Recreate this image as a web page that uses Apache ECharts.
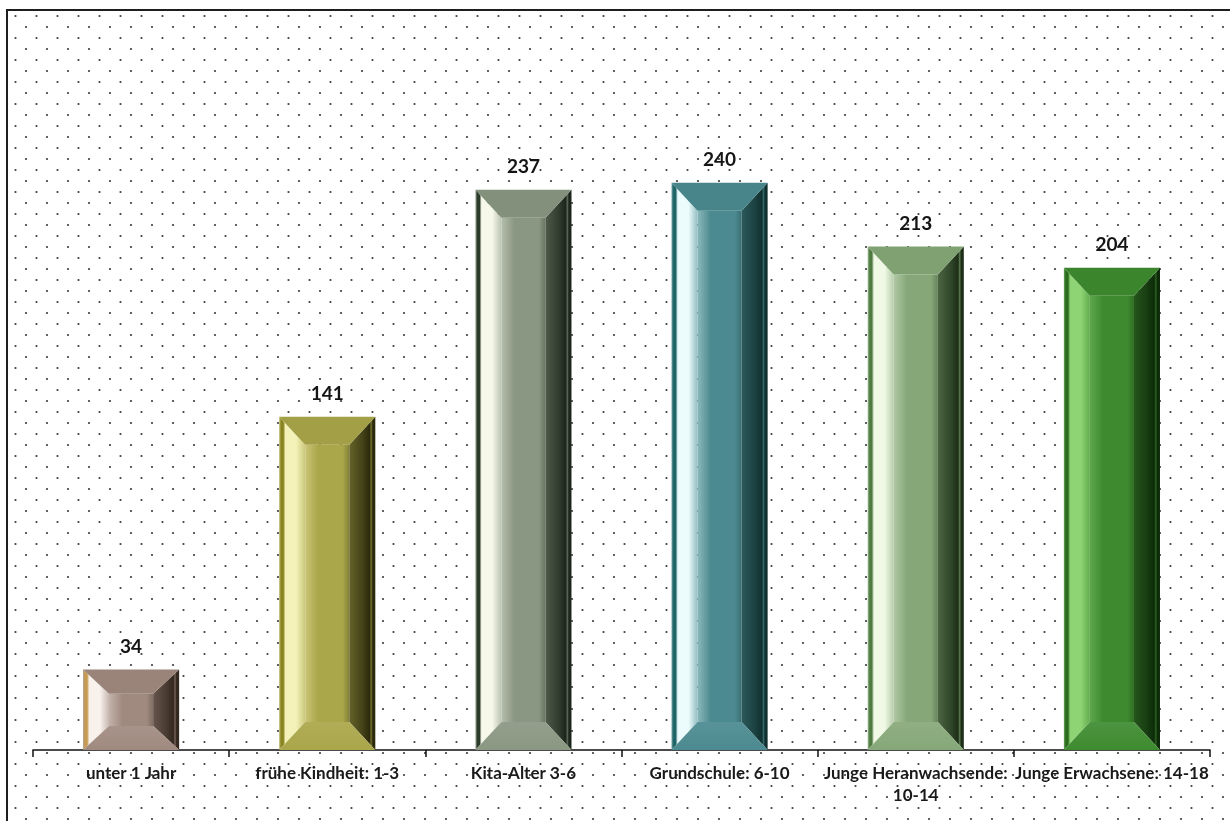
<!DOCTYPE html>
<html>
<head>
<meta charset="utf-8">
<script src="https://cdn.jsdelivr.net/npm/echarts@6/dist/echarts.min.js"></script>
<style>
  html, body { margin: 0; padding: 0; background: #ffffff; }
  #chart { width: 1230px; height: 821px; }
</style>
</head>
<body>
<div id="chart"></div>
<script>
// Age groups and counts
const categories = [
  'unter 1 Jahr',
  'frühe Kindheit: 1-3',
  'Kita-Alter 3-6',
  'Grundschule: 6-10',
  'Junge Heranwachsende:\n10-14',
  'Junge Erwachsene: 14-18'
];
const values = [34, 141, 237, 240, 213, 204];

// Bar face colours: base, light edge, shadow
const palette = [
  { base: '#a08a80', light: '#f8f1ec', dark: '#34281f', edge: '#c89a50' },
  { base: '#aaa64a', light: '#f4f2b8', dark: '#2c2a0c', edge: '#8a8420' },
  { base: '#8a9782', light: '#f6f8ea', dark: '#1c261b', edge: '#2c3a2a' },
  { base: '#4b8a90', light: '#ecfcfc', dark: '#10302f', edge: '#1f6466' },
  { base: '#86a878', light: '#f0f9e6', dark: '#1c2e16', edge: '#4e7a40' },
  { base: '#3e8b2f', light: '#8fd474', dark: '#0e2a0a', edge: '#2a6a1c' }
];

function hexToRgb(h) {
  const n = parseInt(h.slice(1), 16);
  return [(n >> 16) & 255, (n >> 8) & 255, n & 255];
}
function mix(a, b, t) {
  const x = hexToRgb(a), y = hexToRgb(b);
  const r = x.map((v, k) => Math.round(v + (y[k] - v) * t));
  return 'rgb(' + r.join(',') + ')';
}

// Dotted paper background tile
function dotTile() {
  const c = document.createElement('canvas');
  c.width = 21; c.height = 22;
  const g = c.getContext('2d');
  g.fillStyle = '#3c3c3c';
  [[5, 5], [15.5, 16]].forEach(p => {
    g.beginPath(); g.arc(p[0], p[1], 1.1, 0, Math.PI * 2); g.fill();
  });
  return c;
}

function renderBevelBar(params, api) {
  const i = api.value(0), v = api.value(1);
  const top = api.coord([i, v]);
  const bot = api.coord([i, 0]);
  const w = api.size([1, 0])[0] * 0.49;
  const x0 = top[0] - w / 2, x1 = top[0] + w / 2;
  const y0 = top[1], y1 = bot[1];
  const h = y1 - y0;
  const b = 26;
  const d = Math.min(28, h * 0.3);
  const c = palette[i];
  const G = echarts.graphic.LinearGradient;

  const leftFill = new G(x0, 0, x0 + b, 0, [
    { offset: 0, color: mix(c.base, '#ffffff', 0.2) },
    { offset: 0.08, color: c.edge },
    { offset: 0.16, color: c.edge },
    { offset: 0.24, color: c.light },
    { offset: 0.65, color: c.light },
    { offset: 1, color: mix(c.light, c.base, 0.55) }
  ], true);
  const centerFill = new G(x0 + b, 0, x1 - b, 0, [
    { offset: 0, color: mix(c.light, c.base, 0.6) },
    { offset: 0.3, color: c.base },
    { offset: 0.85, color: c.base },
    { offset: 1, color: mix(c.base, c.dark, 0.3) }
  ], true);
  const rightFill = new G(x1 - b, 0, x1, 0, [
    { offset: 0, color: mix(c.base, c.dark, 0.55) },
    { offset: 0.5, color: mix(c.base, c.dark, 0.8) },
    { offset: 0.78, color: c.dark },
    { offset: 0.84, color: mix(c.base, c.dark, 0.4) },
    { offset: 0.9, color: c.dark },
    { offset: 1, color: c.dark }
  ], true);
  const bottomFill = new G(0, y1 - d, 0, y1, [
    { offset: 0, color: mix(c.base, '#ffffff', 0.08) },
    { offset: 1, color: c.base }
  ], true);

  return {
    type: 'group',
    children: [
      { type: 'rect', shape: { x: x0 + b, y: y0 + d, width: w - 2 * b, height: Math.max(0, h - 2 * d) },
        style: { fill: centerFill } },
      { type: 'polygon', shape: { points: [[x0, y0], [x0 + b, y0 + d], [x0 + b, y1 - d], [x0, y1]] },
        style: { fill: leftFill } },
      { type: 'polygon', shape: { points: [[x1, y0], [x1, y1], [x1 - b, y1 - d], [x1 - b, y0 + d]] },
        style: { fill: rightFill } },
      { type: 'polygon', shape: { points: [[x0, y0], [x1, y0], [x1 - b, y0 + d], [x0 + b, y0 + d]] },
        style: { fill: mix(c.base, c.dark, 0.06) } },
      { type: 'polygon', shape: { points: [[x0, y1], [x0 + b, y1 - d], [x1 - b, y1 - d], [x1, y1]] },
        style: { fill: bottomFill } },
      { type: 'text', x: top[0], y: y0 - 13,
        style: { text: String(v), fill: '#151515', font: 'bold 19px Lato, "Open Sans", sans-serif',
                 align: 'center', verticalAlign: 'bottom' } }
    ]
  };
}

const chart = echarts.init(document.getElementById('chart'), null, { renderer: 'canvas' });
chart.setOption({
  animation: false,
  backgroundColor: '#ffffff',
  graphic: [
    { type: 'rect', z: -10, silent: true,
      shape: { x: 8, y: 11, width: 1300, height: 900 },
      style: { fill: { image: dotTile(), repeat: 'repeat' } } },
    { type: 'rect', z: 100, silent: true,
      shape: { x: 7, y: 10, width: 1300, height: 900 },
      style: { fill: null, stroke: '#1e1e1e', lineWidth: 2 } }
  ],
  grid: { left: 33, right: 20, top: 159, bottom: 71, containLabel: false },
  xAxis: {
    type: 'category',
    data: categories,
    boundaryGap: true,
    axisLine: { lineStyle: { color: '#111', width: 1.5 } },
    axisTick: { show: true, length: 7, lineStyle: { color: '#111', width: 1.5 } },
    axisLabel: {
      interval: 0, margin: 13, color: '#1a1a1a', fontSize: 17, fontWeight: 'bold',
      fontFamily: 'Lato, "Open Sans", sans-serif', lineHeight: 22
    }
  },
  yAxis: { type: 'value', min: 0, max: 250, show: false, splitLine: { show: false } },
  series: [{
    type: 'custom',
    renderItem: renderBevelBar,
    encode: { x: 0, y: 1 },
    data: values.map((v, i) => [i, v])
  }]
});
</script>
</body>
</html>
